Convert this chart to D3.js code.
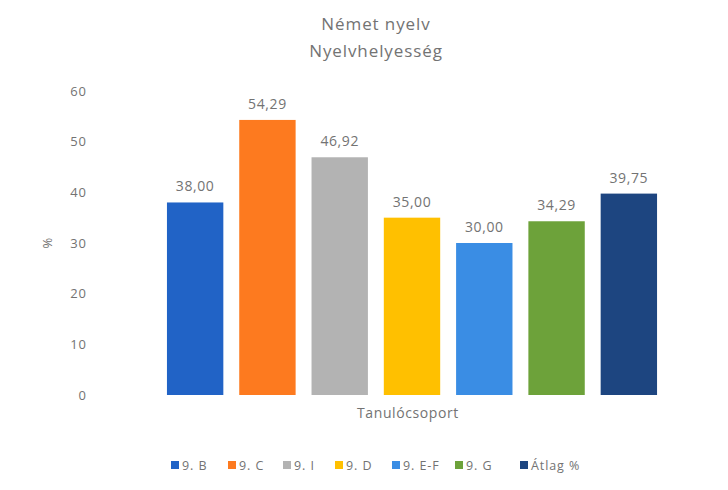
<!DOCTYPE html>
<html><head><meta charset="utf-8">
<script src="https://cdn.jsdelivr.net/npm/d3@7"></script>
<style>body{margin:0;background:#fff}svg{font-family:"Open Sans",Lato,sans-serif}</style>
</head><body><svg id="c" width="728" height="490"></svg>
<script>
const categories = ["9. B","9. C","9. I","9. D","9. E-F","9. G","Átlag %"];
const values = [38.00,54.29,46.92,35.00,30.00,34.29,39.75];
const colors = ["#2163c6","#fd7a1f","#b3b3b3","#ffc000","#3a8de4","#6da23a","#1d4580"];
const yTicks = [0,10,20,30,40,50,60];
const titleLines = ["Német nyelv","Nyelvhelyesség"];
const xTitle = "Tanulócsoport", yTitle = "%";

const svg = d3.select("#c");
const x = d3.scaleBand().domain(categories).range([159,665]).paddingInner(0.22).paddingOuter(0.11);
const y = d3.scaleLinear().domain([0,60]).range([395,91]);
const fmt = v => v.toFixed(2).replace(".",",");
const txt = "#737373";

svg.selectAll("text.title").data(titleLines).join("text")
  .attr("x",376).attr("y",(d,i)=>30+i*27).attr("text-anchor","middle")
  .attr("font-size",17).attr("letter-spacing",0.9).attr("fill",txt).text(d=>d);

const ax = svg.append("g").attr("transform","translate(94,0)")
  .call(d3.axisLeft(y).tickValues(yTicks).tickSize(0).tickPadding(7));
ax.select(".domain").remove();
ax.selectAll("text").attr("font-size",13).attr("letter-spacing",1).attr("fill",txt).style("font-family","Open Sans");

svg.append("text").attr("transform","translate(52,243) rotate(-90)")
  .attr("text-anchor","middle").attr("font-size",13).attr("fill",txt).text(yTitle);

svg.selectAll("rect.bar").data(values).join("rect")
  .attr("x",(d,i)=>x(categories[i])).attr("width",x.bandwidth())
  .attr("y",d=>y(d)).attr("height",d=>y(0)-y(d))
  .attr("fill",(d,i)=>colors[i]);

svg.selectAll("text.lbl").data(values).join("text")
  .attr("x",(d,i)=>x(categories[i])+x.bandwidth()/2).attr("y",d=>y(d)-11)
  .attr("text-anchor","middle").attr("font-size",14).attr("letter-spacing",0.6).attr("fill",txt).text(d=>fmt(d));

svg.append("text").attr("x",408).attr("y",418).attr("text-anchor","middle")
  .attr("font-size",14).attr("letter-spacing",0.6).attr("fill",txt).text(xTitle);

const legX = [171,228,283,335,392,455,520];
const lg = svg.selectAll("g.leg").data(categories).join("g")
  .attr("transform",(d,i)=>`translate(${legX[i]},465)`);
lg.append("rect").attr("x",0).attr("y",-4).attr("width",8).attr("height",8).attr("fill",(d,i)=>colors[i]);
lg.append("text").attr("x",11).attr("y",4.5).attr("font-size",12.5).attr("letter-spacing",0.9).attr("fill",txt).text(d=>d);
</script></body></html>
